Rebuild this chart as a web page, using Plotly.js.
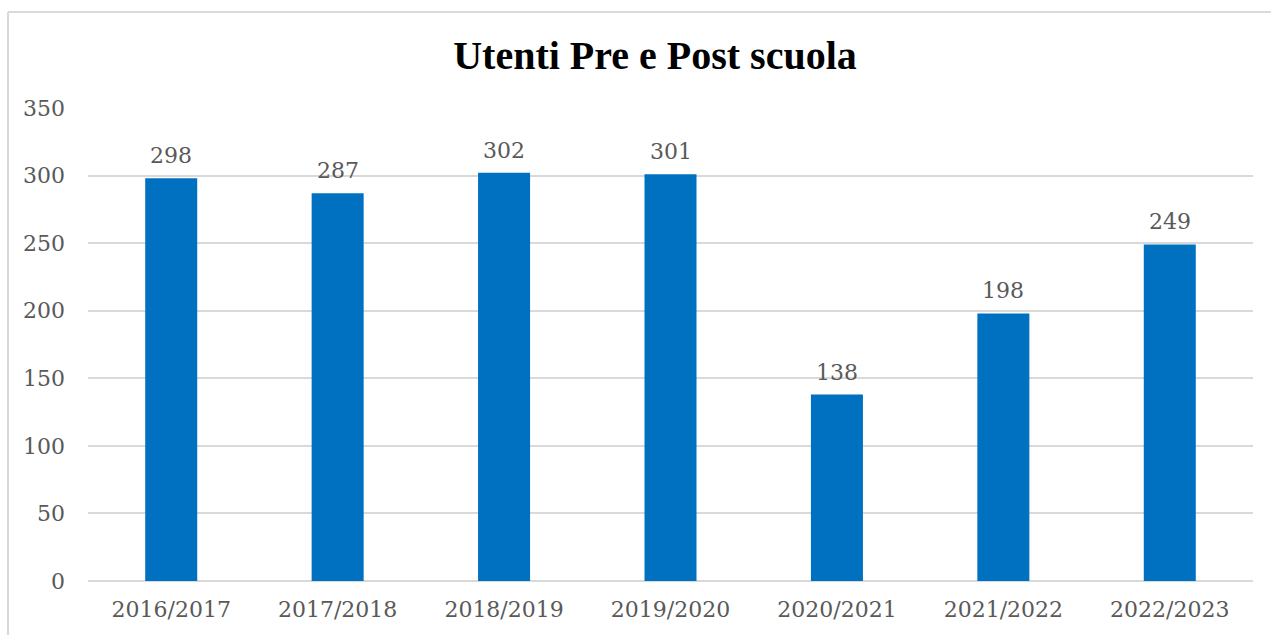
<!DOCTYPE html>
<html>
<head>
<meta charset="utf-8">
<script src="https://cdn.plot.ly/plotly-3.0.1.min.js"></script>
<style>html,body{margin:0;padding:0;background:#fff;}#chart{width:1271px;height:635px;}</style>
</head>
<body>
<div id="chart"></div>
<script>
const categories = ["2016/2017","2017/2018","2018/2019","2019/2020","2020/2021","2021/2022","2022/2023"];
const values = [298, 287, 302, 301, 138, 198, 249];
const yTicks = [0, 50, 100, 150, 200, 250, 300, 350];

const tickFont = {family: "DejaVu Serif, serif", size: 22, color: "#595959"};

const trace = {
  type: "bar",
  x: categories,
  y: values,
  marker: {color: "#0070c0"},
  hoverinfo: "x+y"
};

const annotations = categories.map((c, i) => ({
  x: c, y: values[i], xref: "x", yref: "y",
  text: String(values[i]), showarrow: false,
  yanchor: "bottom", yshift: 8,
  font: tickFont
}));

const layout = {
  width: 1271, height: 635,
  margin: {l: 88, r: 18, t: 108, b: 54},
  paper_bgcolor: "#ffffff",
  plot_bgcolor: "#ffffff",
  bargap: 0.6875,
  showlegend: false,
  title: {
    text: "<b>Utenti Pre e Post scuola</b>",
    font: {family: "Liberation Serif, serif", size: 40, color: "#000000"},
    x: 655/1271, xref: "container", xanchor: "center",
    y: 1 - 55/635, yref: "container", yanchor: "middle"
  },
  xaxis: {
    type: "category",
    tickfont: tickFont,
    showgrid: false,
    ticks: "",
    ticklabelstandoff: 13,
    showline: false,
    zeroline: false
  },
  yaxis: {
    range: [0, 350],
    tickvals: yTicks,
    ticktext: yTicks.map(String),
    tickfont: tickFont,
    showgrid: true,
    gridcolor: "#d9d9d9",
    gridwidth: 2,
    zeroline: true,
    zerolinecolor: "#d9d9d9",
    zerolinewidth: 2,
    ticks: "",
    ticklabelstandoff: 22,
    showline: false
  },
  annotations: annotations,
  shapes: [
    {type: "line", xref: "paper", yref: "paper",
     x0: (8 - 88) / 1165, x1: (8 - 88) / 1165, y0: -0.3, y1: (581 - 12) / 473,
     line: {color: "#d9d9d9", width: 2}},
    {type: "line", xref: "paper", yref: "paper",
     x0: (8 - 88) / 1165, x1: 1.2, y0: (581 - 12) / 473, y1: (581 - 12) / 473,
     line: {color: "#d9d9d9", width: 2}}
  ]
};

Plotly.newPlot("chart", [trace], layout, {displayModeBar: false, staticPlot: true});
</script>
</body>
</html>
